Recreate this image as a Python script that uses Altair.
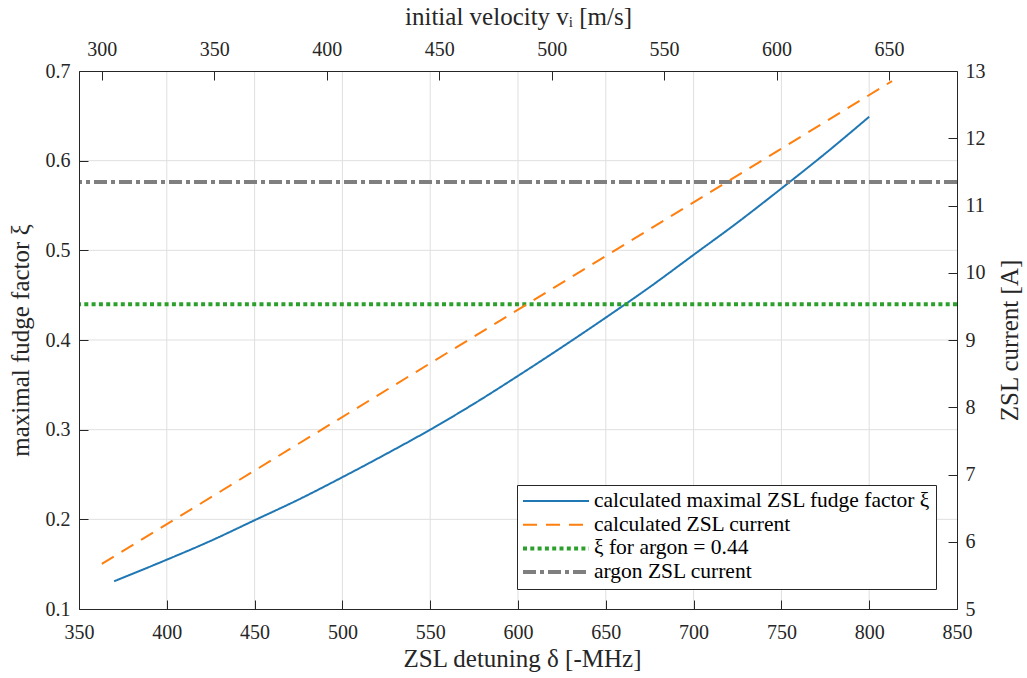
import altair as alt
import pandas as pd

# ---------------- data ----------------
series_names = [
    "calculated maximal ZSL fudge factor ξ",
    "calculated ZSL current",
    "ξ for argon = 0.44",
    "argon ZSL current",
]
series_colors = ["#1f77b4", "#ff7f0e", "#2ca02c", "#7f7f7f"]
series_dashes = [[1, 0], [14, 9], [4, 3.3], [13, 4, 4, 4]]

detuning_xi = [370, 400, 425, 450, 475, 500, 525, 550, 575, 600, 625, 650, 675, 700, 725, 750, 775, 800]
xi_values = [0.131, 0.155, 0.176, 0.199, 0.222, 0.247, 0.273, 0.300, 0.329, 0.360, 0.392, 0.425,
             0.459, 0.495, 0.531, 0.569, 0.608, 0.649]

detuning_current = [363, 813]
current_values = [5.67, 12.85]

xi_argon = [0.44]
current_argon = [11.35]

detuning_ticks = [350, 400, 450, 500, 550, 600, 650, 700, 750, 800, 850]
detuning_grid = [400, 450, 500, 550, 600, 650, 700, 750, 800]
xi_ticks = [0.1, 0.2, 0.3, 0.4, 0.5, 0.6, 0.7]
xi_grid = [0.2, 0.3, 0.4, 0.5, 0.6]
current_ticks = [5, 6, 7, 8, 9, 10, 11, 12, 13]
velocity_ticks = [300, 350, 400, 450, 500, 550, 600, 650]
velocity_domain = [289.9, 680.2]

# ---------------- style ----------------
FONT = "Liberation Serif"
AX = "#262626"
GRID = "#dfdfdf"
W, H = 878, 538
TICK = 9

blue_df = pd.DataFrame({"detuning": detuning_xi, "xi": xi_values, "series": series_names[0]})
orange_df = pd.DataFrame({"detuning": detuning_current, "current": current_values, "series": series_names[1]})
green_df = pd.DataFrame({"xi": xi_argon, "series": [series_names[2]]})
gray_df = pd.DataFrame({"current": current_argon, "series": [series_names[3]]})
vgrid_df = pd.DataFrame({"detuning": detuning_grid})
hgrid_df = pd.DataFrame({"xi": xi_grid})
vel_df = pd.DataFrame({"velocity": velocity_domain})

x_scale = alt.Scale(domain=[350, 850], nice=False, zero=False)
yl_scale = alt.Scale(domain=[0.1, 0.7], nice=False, zero=False)
yr_scale = alt.Scale(domain=[5, 13], nice=False, zero=False)
v_scale = alt.Scale(domain=velocity_domain, nice=False, zero=False)

common_axis = dict(
    ticks=False, domainColor=AX, domainWidth=1, labelColor=AX, titleColor=AX,
    labelFont=FONT, titleFont=FONT, labelFontSize=20, titleFontSize=25,
    titleFontWeight="normal", grid=True, gridColor=AX,
    gridWidth=1, labelFlush=False, labelOverlap=False, zindex=1,
)

x_bottom = alt.Axis(orient="bottom", values=detuning_ticks, format="d",
                    title="ZSL detuning δ [-MHz]", labelBaseline="alphabetic",
                    labelPadding=29, titleX=W / 2 + 4, titleY=49, titleBaseline="middle",
                    titleAlign="center", gridDash=[0, H - TICK, TICK, 5000], **common_axis)
y_left = alt.Axis(orient="left", values=xi_ticks, format=".1f",
                  title="maximal fudge factor ξ", labelPadding=9,
                  titleAngle=270, titleX=-58.5, titleY=H / 2, titleBaseline="middle",
                  titleAlign="center", gridDash=[TICK, 5000], **common_axis)
y_right = alt.Axis(orient="right", values=current_ticks, format="d",
                   title="ZSL current [A]", labelPadding=8,
                   titleAngle=270, titleX=52.5, titleY=H / 2, titleBaseline="middle",
                   titleAlign="center", gridDash=[TICK, 5000], **common_axis)
x_top = alt.Axis(orient="top", values=velocity_ticks, format="d",
                 title="initial velocity vᵢ [m/s]", labelBaseline="alphabetic",
                 labelPadding=15.5, titleX=W / 2, titleY=-55, titleBaseline="middle",
                 titleAlign="center", gridDash=[TICK, 5000], **common_axis)

wide_series = [series_names[2], series_names[3]]
legend = alt.Legend(
    title=None, orient="none", legendX=438, legendY=414,
    symbolType="stroke", symbolSize=66 * 66, clipHeight=22, rowPadding=1.7,
    labelOffset=4, padding=5, strokeColor=AX, fillColor="white", cornerRadius=0,
    labelFont=FONT, labelFontSize=21.5, labelColor="black", labelLimit=0,
    symbolStrokeWidth=alt.ExprRef(
        "((datum.value == '%s' || datum.value == '%s') ? 4 : 2)" % tuple(wide_series)),
)

color_enc = alt.Color("series:N", scale=alt.Scale(domain=series_names, range=series_colors),
                      sort=series_names, legend=legend)
dash_enc = alt.StrokeDash("series:N", scale=alt.Scale(domain=series_names, range=series_dashes),
                          sort=series_names, legend=legend)

# ---------------- layer A: left axis ----------------
vgrid = alt.Chart(vgrid_df).mark_rule(color=GRID, strokeWidth=1).encode(
    x=alt.X("detuning:Q", scale=x_scale, axis=x_bottom))
hgrid = alt.Chart(hgrid_df).mark_rule(color=GRID, strokeWidth=1).encode(
    y=alt.Y("xi:Q", scale=yl_scale, axis=y_left))
blue = alt.Chart(blue_df).mark_line(interpolate="monotone", strokeCap="butt", strokeWidth=2).encode(
    x=alt.X("detuning:Q", scale=x_scale, axis=x_bottom),
    y=alt.Y("xi:Q", scale=yl_scale, axis=y_left),
    color=color_enc, strokeDash=dash_enc)
green = alt.Chart(green_df).mark_rule(strokeCap="butt", strokeWidth=4).encode(
    y=alt.Y("xi:Q", scale=yl_scale, axis=y_left),
    color=color_enc, strokeDash=dash_enc)
layer_a = alt.layer(vgrid, hgrid, blue, green)

# ---------------- layer B: right axis ----------------
orange = alt.Chart(orange_df).mark_line(strokeCap="butt", strokeWidth=2).encode(
    x=alt.X("detuning:Q", scale=x_scale, axis=None),
    y=alt.Y("current:Q", scale=yr_scale, axis=y_right),
    color=color_enc, strokeDash=dash_enc)
gray = alt.Chart(gray_df).mark_rule(strokeCap="butt", strokeWidth=4).encode(
    y=alt.Y("current:Q", scale=yr_scale, axis=y_right),
    color=color_enc, strokeDash=dash_enc)
layer_b = alt.layer(gray, orange)

# ---------------- layer C: top axis ----------------
layer_c = alt.Chart(vel_df).mark_point(opacity=0).encode(
    x=alt.X("velocity:Q", scale=v_scale, axis=x_top))

chart = alt.layer(layer_a, layer_b, layer_c).resolve_scale(
    x="independent", y="independent"
).properties(
    width=W, height=H,
    padding={"left": 79, "top": 71, "right": 1027 - 79 - W, "bottom": 678 - 71 - H},
    autosize=alt.AutoSizeParams(type="none"),
    background="white",
).configure_view(stroke=None)

chart.save("out.html", embed_options={"renderer": "svg", "actions": False})
